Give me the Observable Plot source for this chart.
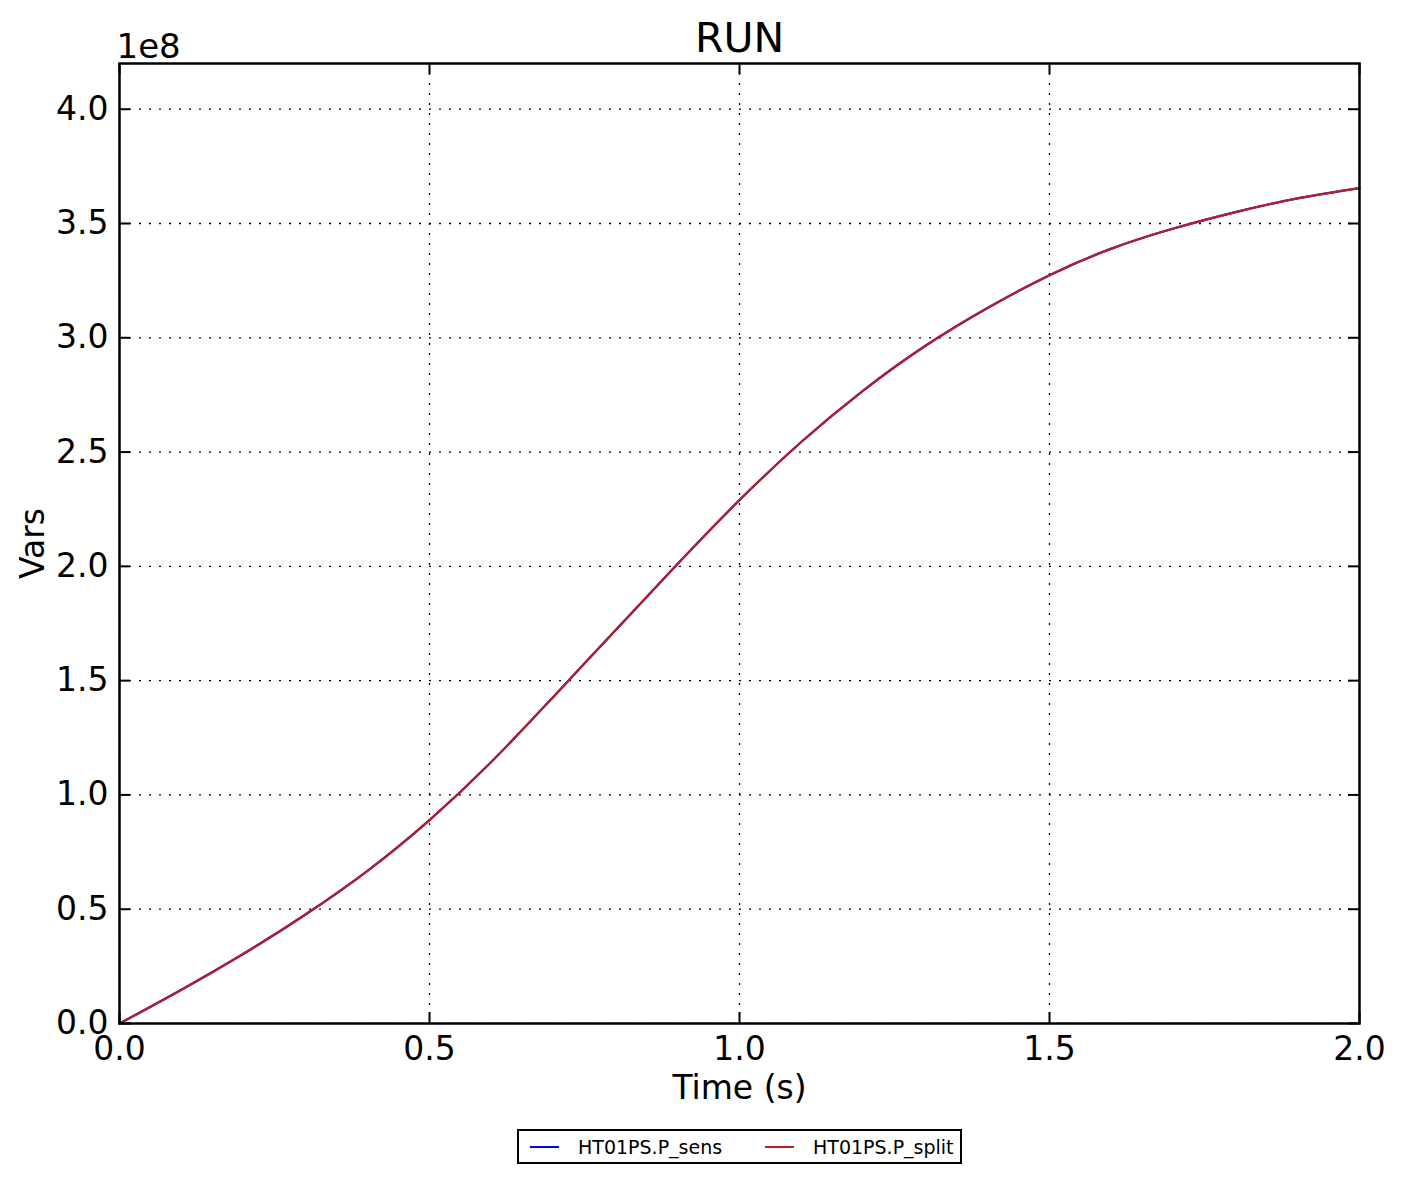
<!DOCTYPE html>
<html>
<head>
<meta charset="utf-8">
<script src="https://cdn.jsdelivr.net/npm/d3@7"></script>
<script src="https://cdn.jsdelivr.net/npm/@observablehq/plot@0.6"></script>
<style>
  html, body { margin: 0; padding: 0; background: #fff; }
  body { width: 1403px; font-family: "DejaVu Sans", sans-serif; }
  #legend {
    position: relative;
    margin-left: 517px; margin-top: 9px;
    width: 441px; height: 31px;
    border: 2px solid #000;
    font-family: "DejaVu Sans", sans-serif; font-size: 19px;
    box-sizing: content-box;
  }
  #legend .item { position: absolute; top: 0; height: 31px; display: flex; align-items: center; }
  #legend .sw { display: inline-block; width: 29px; height: 0; border-top: 2px solid; margin-right: 19px; }
</style>
</head>
<body>
<div id="chart"></div>
<div id="legend"></div>
<script>
// Time (s)
const time = [0.0, 0.1, 0.2, 0.3, 0.4, 0.5, 0.6, 0.7, 0.8, 0.9, 1.0, 1.1, 1.2, 1.3, 1.4, 1.5, 1.6, 1.7, 1.8, 1.9, 2.0];
// values in units of 1e8 Vars
const pSens  = [0, 0.148, 0.305, 0.477, 0.668, 0.89, 1.145, 1.43, 1.72, 2.01, 2.29, 2.545, 2.77, 2.965, 3.13, 3.274, 3.39, 3.478, 3.55, 3.61, 3.655];
const pSplit = [0, 0.148, 0.305, 0.477, 0.668, 0.89, 1.145, 1.43, 1.72, 2.01, 2.29, 2.545, 2.77, 2.965, 3.13, 3.274, 3.39, 3.478, 3.55, 3.61, 3.655];
const seriesNames = ["HT01PS.P_sens", "HT01PS.P_split"];
const seriesColors = ["#0000ff", "#b22222"];
const xTicks = [0.0, 0.5, 1.0, 1.5, 2.0];
const yTicks = [0.0, 0.5, 1.0, 1.5, 2.0, 2.5, 3.0, 3.5, 4.0];

const rows = [];
[pSens, pSplit].forEach((vals, k) => {
  time.forEach((t, i) => rows.push({series: seriesNames[k], t, v: vals[i]}));
});

const W = 1403, H = 1120;
const mL = 119, mR = 44, mT = 63, mB = 97;
const pw = W - mL - mR, ph = H - mT - mB;
const tk = 11;
const grid = {stroke: "#000", strokeOpacity: 1, strokeWidth: 1.3, strokeDasharray: "2,8"};

const chart = Plot.plot({
  width: W, height: H,
  marginLeft: mL, marginRight: mR, marginTop: mT, marginBottom: mB,
  style: {fontFamily: "DejaVu Sans, sans-serif", color: "#000", background: "#fff"},
  x: {domain: [0, 2]},
  y: {domain: [0, 4.2]},
  color: {domain: seriesNames, range: seriesColors},
  marks: [
    Plot.gridX(xTicks, grid),
    Plot.gridY(yTicks, grid),
    Plot.line(rows, {x: "t", y: "v", z: "series", stroke: "series", strokeWidth: 2.2, curve: "natural"}),
    Plot.frame({stroke: "#000", strokeWidth: 2.5}),
    Plot.tickX(xTicks, {x: d => d, insetTop: ph - tk, stroke: "#000", strokeWidth: 2}),
    Plot.tickX(xTicks, {x: d => d, insetBottom: ph - tk, stroke: "#000", strokeWidth: 2}),
    Plot.tickY(yTicks, {y: d => d, insetRight: pw - tk, stroke: "#000", strokeWidth: 2}),
    Plot.tickY(yTicks, {y: d => d, insetLeft: pw - tk, stroke: "#000", strokeWidth: 2}),
    Plot.axisX({ticks: xTicks, tickSize: 0, tickPadding: 13, tickFormat: d3.format(".1f"), fontSize: 33, label: null}),
    Plot.axisY({ticks: yTicks, tickSize: 0, tickPadding: 11, tickFormat: d3.format(".1f"), fontSize: 33, label: null}),
    Plot.text(["Time (s)"], {text: d => d, frameAnchor: "bottom", textAnchor: "middle", lineAnchor: "middle", dy: 65, fontSize: 33}),
    Plot.text(["Vars"], {text: d => d, frameAnchor: "left", textAnchor: "middle", lineAnchor: "middle", dx: -86, rotate: -90, fontSize: 33}),
    Plot.text(["1e8"], {text: d => d, frameAnchor: "top-left", textAnchor: "start", lineAnchor: "bottom", dx: -3, dy: -6, fontSize: 34}),
    Plot.text(["RUN"], {text: d => d, frameAnchor: "top", textAnchor: "middle", lineAnchor: "middle", dy: -25, fontSize: 41})
  ]
});
document.getElementById("chart").appendChild(chart);

const legend = document.getElementById("legend");
const lefts = [11, 246];
seriesNames.forEach((name, k) => {
  const item = document.createElement("div");
  item.className = "item";
  item.style.left = lefts[k] + "px";
  const sw = document.createElement("span");
  sw.className = "sw";
  sw.style.borderTopColor = seriesColors[k];
  item.appendChild(sw);
  item.appendChild(document.createTextNode(name));
  legend.appendChild(item);
});
</script>
</body>
</html>
